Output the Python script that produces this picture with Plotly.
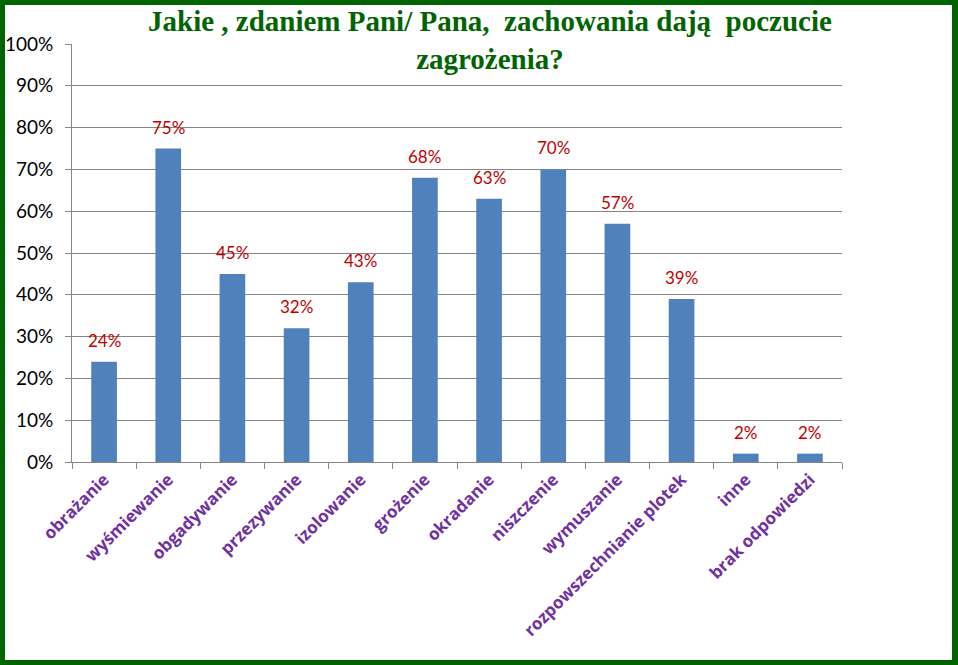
import plotly.graph_objects as go

categories = ["obrażanie", "wyśmiewanie", "obgadywanie", "przezywanie", "izolowanie",
              "grożenie", "okradanie", "niszczenie", "wymuszanie",
              "rozpowszechnianie plotek", "inne", "brak odpowiedzi"]
values = [24, 75, 45, 32, 43, 68, 63, 70, 57, 39, 2, 2]
y_ticks = [0, 10, 20, 30, 40, 50, 60, 70, 80, 90, 100]
y_tick_labels = [f"{v}%" for v in y_ticks]
title_text = "Jakie , zdaniem Pani/ Pana,  zachowania dają  poczucie<br>zagrożenia?"

W, H = 958, 665
L, R, T, B = 72, 116, 44, 203
pw, ph = W - L - R, H - T - B

fig = go.Figure(go.Bar(
    x=categories, y=values,
    marker=dict(color="#4F81BD", line=dict(width=0)),
    cliponaxis=False,
))

label_annotations = [
    dict(x=c, y=v, xref="x", yref="y", text=f"{v}%", showarrow=False,
         yanchor="bottom", yshift=9,
         font=dict(color="#C00000", size=17, family="Lato"))
    for c, v in zip(categories, values)
]

fig.update_layout(
    width=W, height=H,
    margin=dict(l=L, r=R, t=T, b=B, autoexpand=False),
    paper_bgcolor="white", plot_bgcolor="white",
    bargap=0.6,
    showlegend=False,
    font=dict(family="Lato", color="black"),
    xaxis=dict(
        automargin=False,
        tickangle=-45,
        tickfont=dict(family="Open Sans", size=17, color="#7030A0", weight="bold"),
        showline=True, linecolor="#868686", linewidth=1,
        ticks="outside", tickson="boundaries", ticklen=6, tickcolor="#868686",
        showgrid=False,
    ),
    yaxis=dict(
        automargin=False,
        range=[0, 100],
        tickvals=y_ticks, ticktext=y_tick_labels,
        tickfont=dict(family="Lato", size=19, color="black"),
        showline=True, linecolor="#868686", linewidth=1,
        ticks="outside", ticklen=6, tickcolor="#868686",
        ticklabelstandoff=8,
        showgrid=True, gridcolor="#868686", gridwidth=1,
        zeroline=False,
    ),
    annotations=label_annotations + [dict(
        text=title_text, xref="paper", yref="paper",
        x=(490 - L) / pw, y=(H - B - 40) / ph,
        xanchor="center", yanchor="middle", showarrow=False,
        font=dict(family="Liberation Serif", size=29, color="#006400", weight="bold"),
        align="center",
    )],
    shapes=[dict(
        type="rect", xref="paper", yref="paper",
        x0=-L / pw, x1=(W - L - 1) / pw,
        y0=-B / ph, y1=(H - B) / ph,
        line=dict(color="#006400", width=10),
        fillcolor="rgba(0,0,0,0)", layer="above",
    )],
)

fig.write_html("out.html", config={"displayModeBar": False},
               post_script="document.body.style.margin='0';document.body.style.overflow='hidden';")
